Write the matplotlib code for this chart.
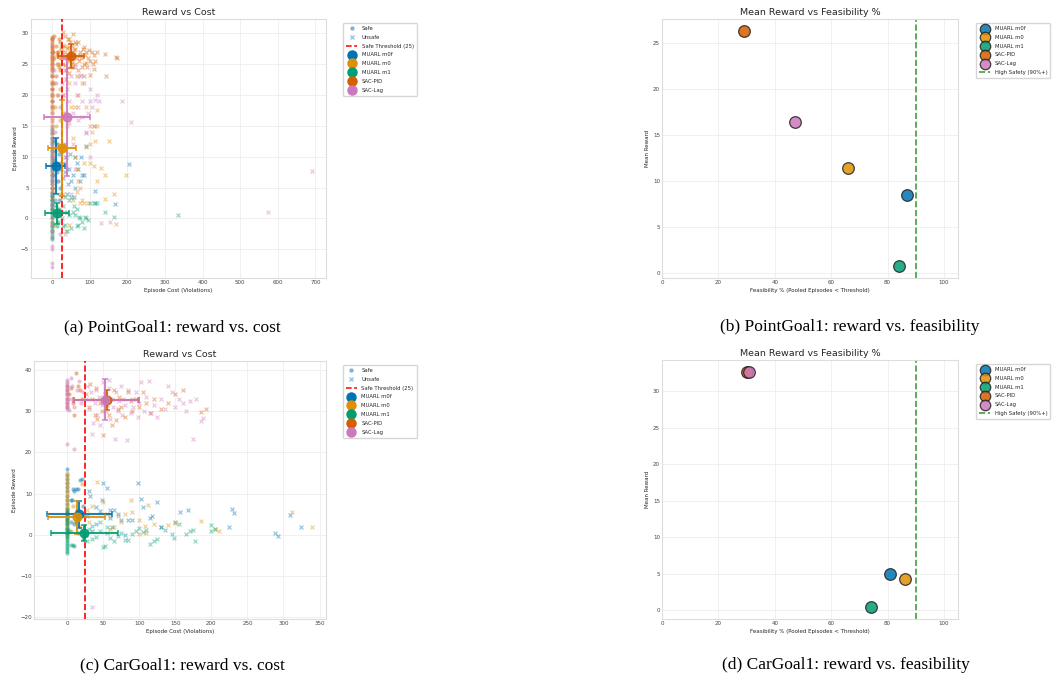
import numpy as np
import matplotlib
matplotlib.use("Agg")
import matplotlib.pyplot as plt
import seaborn as sns
from matplotlib.lines import Line2D

sns.set_style("whitegrid")
plt.rcParams['font.family'] = ['DejaVu Sans']

methods = ['MUARL m0f', 'MUARL m0', 'MUARL m1', 'SAC-PID', 'SAC-Lag']
colors = sns.color_palette('colorblind', 5)
SAFE_THRESHOLD = 25

# ---------------- PointGoal1 episodes: (cost, reward) ----------------
pg_m0f = [(0, 14.5), (0, 13.8), (0, 13), (0, 12.5), (0, 12), (0, 11.4), (0, 11), (0, 10.5),
          (0, 10), (0, 9.5), (0, 9), (0, 8.5), (0, 8), (0, 7.5), (0, 7), (0, 6.5), (0, 6),
          (0, 5.5), (0, 5), (0, 4.3), (0, 3.6), (0, 3), (0, 2.2), (0, 1.5), (0, 0.8),
          (5, 12.5), (8, 11), (10, 9), (12, 7.5), (15, 6), (18, 10.5), (20, 8), (22, 5),
          (14, 12), (6, 9.5), (3, 7),
          (30, 9), (35, 7.5), (38, 10), (45, 8), (50, 6), (55, 7), (60, 5), (65, 9), (70, 8),
          (75, 6), (80, 7), (85, 7), (90, 11.8), (40, 4), (28, 6.5), (115, 4.4), (168, 2.4),
          (205, 8.8), (48, 10.5), (62, 10), (77, 10), (33, 12), (42, 5.5), (57, 3.5)]
pg_m0 = [(0, 29), (0, 28.3), (0, 27.6), (0, 27), (0, 26.3), (0, 25.6), (0, 25), (0, 24.3),
         (0, 23.6), (0, 23), (0, 22.3), (0, 21.6), (0, 21), (0, 20.3), (0, 19.6), (0, 19),
         (0, 18.3), (0, 17.6), (0, 17), (0, 16.3), (0, 15.6), (0, 15), (0, 14.3), (0, 13.6),
         (0, 13), (0, 12.3), (0, 11.6), (0, 11), (0, 10.3), (0, 9.6), (0, 9), (0, 8.3),
         (0, 7.6), (0, 7), (0, 6.3), (0, 5.6), (0, 5), (0, 4.3), (0, 3.6), (0, 3), (0, 2.3),
         (0, 1.6), (0, 1), (0, 0.3), (0, -0.5), (0, -1.2), (0, -2),
         (5, 22), (8, 18), (10, 15), (12, 20), (15, 12), (18, 25), (20, 9), (22, 16),
         (24, 28), (3, 5), (6, -1), (14, 27), (17, 4), (21, 21),
         (30, 20), (35, 17), (40, 15), (45, 22), (50, 18), (55, 13), (60, 10), (65, 8),
         (70, 6), (75, 5), (80, 3), (85, 2.5), (95, 2.5), (100, 12), (110, 8.5), (115, 12.5),
         (120, 6), (130, 8.2), (140, 3.2), (150, 12.6), (165, 4), (170, -0.9), (195, 7),
         (120, 17.5), (100, 15), (90, 11.5), (105, 14), (28, 4), (32, 1), (38, -2), (45, -1),
         (55, 3), (65, 4.2), (75, 2.5), (85, 9), (112, 15), (118, 15), (60, 18), (70, 20),
         (50, 25), (35, 28), (45, 29), (40, 26), (80, 22), (90, 18), (100, 9), (140, 7)]
pg_m1 = [(0, -3.4), (0, -3), (0, -2.5), (0, -2), (0, -1.5), (0, -1), (0, -0.5), (0, 0),
         (0, 0.5), (0, 1), (0, 1.5), (0, 2), (0, 2.5), (0, 3), (0, 3.5), (0, 4),
         (5, 1), (10, 2), (15, -0.5), (20, 0.5), (8, 3), (12, -1.3), (18, 1.5), (22, 3),
         (26, 0), (30, 2), (35, -1), (40, 1), (45, 3), (50, -1.5), (55, 1), (60, 0.5),
         (65, 1.5), (70, -1), (75, 0), (80, -0.5), (85, -1.5), (90, 0), (95, -0.3),
         (100, 2.5), (110, 2.5), (115, 2.5), (120, 2.5), (140, 1), (165, 0.2), (335, 0.6),
         (50, 3.5), (65, -1.3), (40, -2), (58, 2), (72, 0.3), (88, 0.2), (30, -1.3),
         (45, 0.5), (35, 3.5)]
pg_pid = [(0, 18), (0, 19), (0, 20), (0, 21), (0, 22), (0, 23), (0, 24), (0, 24.5),
          (0, 25), (0, 25.5), (0, 26), (0, 26.5), (0, 27), (0, 27.5), (0, 28), (0, 28.5),
          (0, 29), (0, 29.3),
          (3, 27), (6, 26), (9, 28), (12, 25), (15, 27), (18, 29), (20, 26), (22, 24),
          (24, 27.5), (10, 23), (5, 29.5), (14, 26.5), (17, 24.5), (21, 28.5),
          (26, 27), (28, 25), (30, 28), (32, 26), (35, 27), (38, 24), (40, 26.5), (42, 29),
          (45, 25.5), (48, 27), (50, 26), (52, 28), (55, 24.5), (58, 26.5), (60, 25),
          (62, 27.5), (65, 26), (68, 24), (70, 28.5), (72, 25.5), (75, 27), (78, 26),
          (80, 24.5), (82, 27.5), (85, 25), (88, 26.5), (90, 27), (92, 24.5), (95, 26),
          (98, 27.2), (100, 25.5), (105, 27), (110, 26.5), (115, 25.5), (120, 27),
          (140, 26.6), (143, 23), (170, 26.2), (172, 26), (30, 30.2), (35, 29.5), (55, 29.8),
          (45, 23.5), (65, 23), (85, 23), (100, 23.2), (90, 25.2), (60, 28.5), (36, 22.5),
          (27, 26.2), (33, 24.8), (44, 27.8), (53, 25.2), (63, 28.2), (74, 26.4), (86, 27.8),
          (108, 25), (112, 24.2), (47, 28.6), (39, 27.6), (57, 27.2)]
pg_lag = [(0, 29), (0, 28), (0, 27), (0, 26), (0, 25), (0, 24), (0, 23), (0, 22), (0, 21),
          (0, 20), (0, 19), (0, 18), (0, 17), (0, 16), (0, 15), (0, 14), (0, 13), (0, 12),
          (0, 11), (0, 10), (0, 9), (0, 8), (0, 7), (0, 6), (0, 5), (0, 4), (0, 3), (0, 2),
          (0, 1), (0, 0), (0, -1), (0, -2), (0, -3), (0, -4.5), (0, -5), (0, -7.2), (0, -7.8),
          (5, 24), (10, 22), (15, 20), (20, 18), (8, 14), (12, 6), (18, 3), (22, -2.5), (3, 10),
          (26, 22), (30, 20), (35, 24), (40, 21), (45, 19), (50, 23), (55, 17), (60, 22),
          (65, 20), (70, 18), (75, 23), (80, 19), (85, 22), (90, 14), (95, 17), (100, 19),
          (105, 18), (110, 15), (115, 19.2), (120, 20), (125, 19), (185, 19), (210, 15.6),
          (575, 1), (692, 7.6), (40, 8), (50, 4), (60, 8), (70, 16), (80, 16.5), (90, 13.8),
          (100, 10), (155, -0.5), (100, 21), (30, 26), (45, 15.5), (55, 12), (28, 17),
          (35, 10), (130, -0.7), (33, -2.5), (48, 26), (62, 24.5), (78, 23.2)]

# mean cost / reward with std, per method
pg_cost_mean = [10, 26.5, 12, 50, 39]
pg_cost_std = [25, 38, 32, 35, 61]
pg_rew_mean = [8.45, 11.4, 0.8, 26.3, 16.4]
pg_rew_std = [4.5, 7.8, 1.7, 1.9, 9.6]
pg_feasible = [87.0, 65.8, 84.0, 29.0, 47.3]

# ---------------- CarGoal1 episodes: (cost, reward) ----------------
cg_m0f = [(0, 0.5), (0, 1.5), (0, 2.5), (0, 3.5), (0, 4.5), (0, 5.5), (0, 6.5), (0, 7.5),
          (0, 8.5), (0, 9.5), (0, 10.5), (0, 11.5), (0, 12.5), (0, 13.5), (0, 14.5), (0, 16),
          (5, 8.5), (8, 11), (10, 10.5), (12, 11.2), (15, 11), (18, 13.3), (20, 13.5),
          (22, 7), (5, 3), (10, 2.5), (14, 6), (17, 4.5), (7, 8.4),
          (30, 10.5), (32, 9.5), (40, 6.8), (45, 5.7), (50, 12.5), (55, 11.3), (60, 6),
          (65, 6), (75, 3.5), (80, 0), (85, 3.7), (90, 3.5), (98, 12.5), (102, 8.6),
          (105, 6.7), (115, 4), (118, 4.6), (125, 7.9), (150, 3), (157, 5.5), (167, 6),
          (225, 2), (229, 6.3), (231, 5.3), (288, 0.5), (292, -0.3), (309, 4.8), (324, 1.8),
          (130, 2), (60, 4), (70, 5), (40, 2.5), (35, 1), (28, 4.5), (48, 8.5)]
cg_m0 = [(0, -0.5), (0, 0.3), (0, 1), (0, 1.7), (0, 2.4), (0, 3.1), (0, 3.8), (0, 4.5),
         (0, 5.2), (0, 5.9), (0, 6.6), (0, 7.3), (0, 8), (0, 8.7), (0, 9.4), (0, 10.1),
         (0, 10.8), (0, 11.5), (0, 12.2), (0, 12.9), (0, 13.6), (0, 14.3), (0, 15),
         (10, 5), (15, 4.3), (20, 12.3), (18, 2), (5, 1), (8, 7), (12, 3),
         (28, 6), (30, 3), (35, 7), (42, 12.7), (50, 8), (55, 5), (60, 4.5), (65, 2),
         (70, 4.5), (80, 5), (88, 8.5), (90, 5.5), (100, 3.5), (108, 2.2), (110, 0.5),
         (112, 7.2), (120, 2.6), (140, 2.4), (150, 2.8), (186, 3.3), (205, 1.3), (210, 0.9),
         (312, 5.6), (340, 2), (100, 0.2), (60, 1.5), (75, 3)]
cg_m1 = [(0, -4.5), (0, -4), (0, -3.5), (0, -3), (0, -2.5), (0, -2), (0, -1.5), (0, -1),
         (0, -0.5), (0, 0), (0, 0.5), (0, 1), (0, 1.5), (0, 2), (0, 2.5), (0, 3), (0, 3.5),
         (0, 4), (0, 4.5), (0, 5), (0, 5.5), (0, 6),
         (5, -2.5), (8, -2.5), (10, -2.8), (15, 0.5), (20, 1), (3, 1), (12, 3), (22, -1),
         (26, 0), (28, -1.5), (30, 1.5), (35, -1), (40, -0.5), (45, 1), (50, -2.9),
         (52, -2.8), (55, 0.5), (60, -0.8), (62, 2), (65, -1.5), (70, -0.4), (75, 0.5),
         (80, -1.3), (85, -1.2), (90, 0.2), (95, 0.9), (100, 1.6), (105, 0.6), (110, 1.1),
         (115, -2.3), (120, -1.4), (125, -0.9), (130, 2), (135, 1.1), (145, 0.3),
         (148, -0.7), (155, 2.5), (165, 0.3), (170, 0.9), (175, 1.2), (177, -1.4), (200, 1),
         (205, 1.4), (200, 2.4), (45, 3), (55, 2), (35, 2.2)]
cg_pid = [(0, 31), (0, 32), (0, 33), (0, 34), (0, 35), (0, 36), (5, 35.5), (8, 32),
          (10, 29), (12, 39.3), (15, 36), (20, 33), (3, 34), (18, 35),
          (26, 34), (30, 31), (35, 33), (38, 29), (40, 35.5), (45, 32), (48, 30), (50, 24.2),
          (52, 34), (55, 31.5), (58, 29), (60, 33), (62, 26.6), (65, 35), (70, 30.5),
          (72, 33.5), (75, 31), (80, 28.5), (85, 34.5), (88, 32.5), (90, 30), (95, 33),
          (100, 31), (105, 34.5), (110, 32), (115, 29.5), (120, 33), (130, 30.5), (140, 32),
          (150, 34), (160, 35), (185, 29.8), (192, 30.5), (32, 36.5), (42, 28), (68, 27.8)]
cg_lag = [(0, 30.5), (0, 31), (0, 31.5), (0, 32), (0, 32.5), (0, 33), (0, 33.5), (0, 34),
          (0, 34.5), (0, 35), (0, 35.5), (0, 36), (0, 36.5), (0, 37), (0, 37.5), (0, 22),
          (5, 38), (10, 20.7), (4, 33), (7, 36), (10, 31), (13, 35), (16, 37.3), (19, 32),
          (22, 34.5), (3, 30.2),
          (26, 33), (28, 36), (30, 30.5), (33, 34.5), (35, -17.5), (36, 27), (38, 32),
          (40, 35), (42, 29), (44, 33.5), (46, 26.5), (48, 31.5), (50, 37), (52, 34),
          (54, 30), (56, 32.5), (58, 35.5), (60, 28), (62, 33), (64, 31), (66, 23.3),
          (68, 34.5), (70, 30), (72, 32.5), (74, 36), (76, 29), (78, 33), (80, 31.5),
          (83, 23), (85, 35), (88, 29.5), (90, 33), (92, 31), (95, 34.5), (98, 28.5),
          (100, 32), (103, 37), (106, 30), (110, 33.5), (113, 37.3), (116, 29.5),
          (120, 31.5), (125, 28.5), (130, 33), (135, 30.5), (140, 36), (145, 34.5),
          (150, 31), (155, 33), (160, 32), (165, 30), (170, 32.5), (175, 23.2), (178, 33),
          (185, 27.5), (188, 28.2), (58, 37.5), (34, 24.5)]

cg_cost_mean = [17, 13, 24, 54.6, 53]
cg_cost_std = [45, 39, 47, 45.5, 45]
cg_rew_mean = [4.95, 4.3, 0.4, 32.6, 32.7]
cg_rew_std = [3.3, 4.0, 2.0, 2.4, 5.0]
cg_feasible = [80.8, 86.3, 74.2, 30.0, 31.0]


def plot_reward_vs_cost(ax, episodes, cost_mean, cost_std, rew_mean, rew_std, xlim, ylim):
    for name, eps, c in zip(methods, episodes, colors):
        eps = np.array(eps, dtype=float)
        safe = eps[:, 0] < SAFE_THRESHOLD
        ax.scatter(eps[safe, 0], eps[safe, 1], color=c, marker='o', s=9, alpha=0.45,
                   linewidths=0)
        ax.scatter(eps[~safe, 0], eps[~safe, 1], color=c, marker='x', s=8, alpha=0.4,
                   linewidths=0.9)
    for i, c in enumerate(colors):
        ax.errorbar(cost_mean[i], rew_mean[i], xerr=cost_std[i], yerr=rew_std[i], fmt='o',
                    color=c, markersize=6.2, capsize=2.5, elinewidth=1.5, capthick=1.1,
                    alpha=0.9, zorder=5)
    ax.axvline(SAFE_THRESHOLD, color='red', linestyle='--', linewidth=1.2, zorder=4)
    ax.set_xlim(*xlim)
    ax.set_ylim(*ylim)
    ax.set_title('Reward vs Cost', fontsize=6.8, pad=3)
    ax.set_xlabel('Episode Cost (Violations)', fontsize=4, labelpad=2)
    ax.set_ylabel('Episode Reward', fontsize=4, labelpad=2)
    handles = [Line2D([], [], marker='o', linestyle='', color=colors[0], alpha=0.4, markersize=2.2),
               Line2D([], [], marker='x', linestyle='', color=colors[0], alpha=0.4, markersize=2.2),
               Line2D([], [], color='red', linestyle='--', linewidth=1.1)]
    labels = ['Safe', 'Unsafe', f'Safe Threshold ({SAFE_THRESHOLD})']
    for name, c in zip(methods, colors):
        handles.append(Line2D([], [], marker='o', linestyle='', color=c, markersize=6.5))
        labels.append(name)
    ax.legend(handles, labels, loc='upper left', bbox_to_anchor=(1.058, 0.985),
              borderaxespad=0, fontsize=3.8, frameon=True, labelspacing=0.72,
              handletextpad=0.9, borderpad=0.6)


def plot_reward_vs_feasibility(ax, feasible, rew_mean, ylim):
    for name, f, r, c in zip(methods, feasible, rew_mean, colors):
        ax.scatter(f, r, s=70, color=c, edgecolor='#222222', linewidths=0.9, alpha=0.85,
                   label=name, zorder=3)
    ax.axvline(90, color='green', linestyle='--', linewidth=1.2, alpha=0.75,
               label='High Safety (90%+)')
    ax.set_xlim(0, 105)
    ax.set_ylim(*ylim)
    ax.set_title('Mean Reward vs Feasibility %', fontsize=6.8, pad=3)
    ax.set_xlabel('Feasibility % (Pooled Episodes < Threshold)', fontsize=4, labelpad=2)
    ax.set_ylabel('Mean Reward', fontsize=4, labelpad=2)
    ax.legend(loc='upper left', bbox_to_anchor=(1.061, 0.985), borderaxespad=0,
              fontsize=3.8, frameon=True, labelspacing=0.72, markerscale=0.9,
              handletextpad=0.9, borderpad=0.6)


fig = plt.figure(figsize=(10.62, 6.8), dpi=100)
ax_a = fig.add_axes([0.0289, 0.5916, 0.2781, 0.3805])
ax_b = fig.add_axes([0.6234, 0.5916, 0.2787, 0.3805])
ax_c = fig.add_axes([0.0320, 0.0897, 0.2750, 0.3794])
ax_d = fig.add_axes([0.6234, 0.0897, 0.2787, 0.3809])

plot_reward_vs_cost(ax_a, [pg_m0f, pg_m0, pg_m1, pg_pid, pg_lag],
                    pg_cost_mean, pg_cost_std, pg_rew_mean, pg_rew_std,
                    (-57, 728), (-9.6, 32.3))
plot_reward_vs_feasibility(ax_b, pg_feasible, pg_rew_mean, (-0.47, 27.6))
plot_reward_vs_cost(ax_c, [cg_m0f, cg_m0, cg_m1, cg_pid, cg_lag],
                    cg_cost_mean, cg_cost_std, cg_rew_mean, cg_rew_std,
                    (-46, 359), (-20.4, 42.1))
plot_reward_vs_feasibility(ax_d, cg_feasible, cg_rew_mean, (-1.2, 34.3))

for ax in (ax_a, ax_b, ax_c, ax_d):
    ax.tick_params(labelsize=4, pad=1.5, length=0, colors='#444444')
    ax.grid(True, color='#eeeeee', linewidth=0.6)
    for sp in ax.spines.values():
        sp.set_color('#dddddd')
        sp.set_linewidth(0.8)

captions = [(172, 327, '(a) PointGoal1: reward vs. cost'),
            (850, 327, '(b) PointGoal1: reward vs. feasibility'),
            (182, 665, '(c) CarGoal1: reward vs. cost'),
            (846, 665, '(d) CarGoal1: reward vs. feasibility')]
for x, y, text in captions:
    fig.text(x / 1062, 1 - y / 680, text, ha='center', va='center',
             fontsize=12.5, family='Liberation Serif', color='black')

fig.savefig('out.png', dpi=100)
